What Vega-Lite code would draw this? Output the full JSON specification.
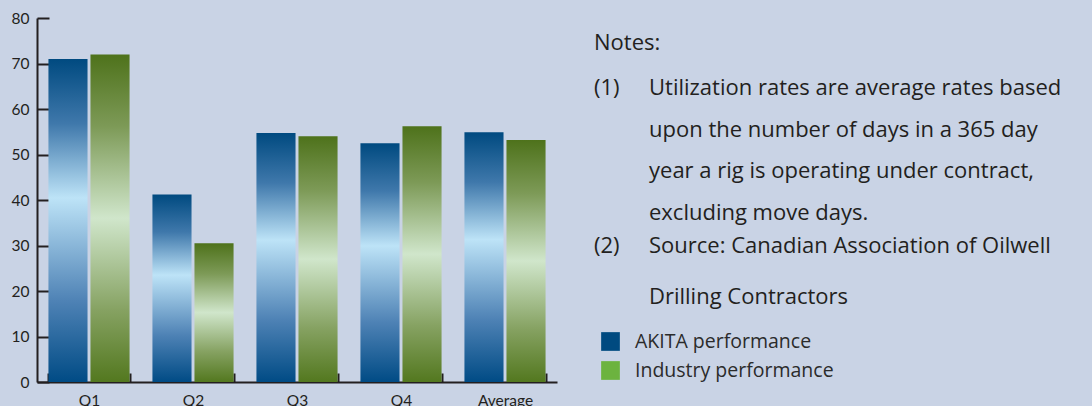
{
  "$schema": "https://vega.github.io/schema/vega-lite/v6.json",
  "background": "#c9d3e5",
  "padding": {"left": 11, "top": 11, "right": 0, "bottom": 0},
  "autosize": {"type": "pad"},
  "bounds": "flush",
  "spacing": 37,
  "config": {"view": {"stroke": null}, "font": "Lato"},
  "hconcat": [
    {
      "width": 520,
      "height": 364,
      "data": {"values": [
        {"quarter": "Q1", "series": "AKITA performance", "rate": 71.0},
        {"quarter": "Q1", "series": "Industry performance", "rate": 72.0},
        {"quarter": "Q2", "series": "AKITA performance", "rate": 41.2},
        {"quarter": "Q2", "series": "Industry performance", "rate": 30.5},
        {"quarter": "Q3", "series": "AKITA performance", "rate": 54.7},
        {"quarter": "Q3", "series": "Industry performance", "rate": 54.0},
        {"quarter": "Q4", "series": "AKITA performance", "rate": 52.5},
        {"quarter": "Q4", "series": "Industry performance", "rate": 56.2},
        {"quarter": "Average", "series": "AKITA performance", "rate": 54.9},
        {"quarter": "Average", "series": "Industry performance", "rate": 53.2}
      ]},
      "encoding": {
        "x": {
          "field": "quarter", "type": "nominal",
          "sort": ["Q1", "Q2", "Q3", "Q4", "Average"],
          "scale": {"paddingInner": 0.22, "paddingOuter": 0.11},
          "axis": {
            "title": null, "labelAngle": 0,
            "domainColor": "#231f20", "domainWidth": 2,
            "tickColor": "#231f20", "tickWidth": 2, "tickSize": -9,
            "tickBand": "extent",
            "labelPadding": 20, "labelFontSize": 15.5, "labelColor": "#231f20", "labelFont": "Lato"
          }
        },
        "xOffset": {
          "field": "series", "type": "nominal",
          "scale": {"domain": ["AKITA performance", "Industry performance"], "paddingInner": 0.07}
        },
        "y": {
          "field": "rate", "type": "quantitative",
          "scale": {"domain": [0, 80], "nice": false},
          "axis": {
            "title": null, "values": [0, 10, 20, 30, 40, 50, 60, 70, 80], "grid": false,
            "domainColor": "#231f20", "domainWidth": 2,
            "tickColor": "#231f20", "tickWidth": 2, "tickSize": -12,
            "labelPadding": 20, "labelFontSize": 15.5, "labelColor": "#231f20", "labelFont": "Lato"
          }
        }
      },
      "layer": [
        {
          "transform": [{"filter": "datum.series === 'AKITA performance'"}],
          "mark": {
            "type": "bar",
            "fill": {
              "gradient": "linear", "x1": 0, "y1": 0, "x2": 0, "y2": 1,
              "stops": [
                {"offset": 0, "color": "#004a80"},
                {"offset": 0.2, "color": "#3f78ab"},
                {"offset": 0.43, "color": "#bde3f7"},
                {"offset": 0.75, "color": "#4e82b5"},
                {"offset": 1, "color": "#004b85"}
              ]
            }
          }
        },
        {
          "transform": [{"filter": "datum.series === 'Industry performance'"}],
          "mark": {
            "type": "bar",
            "fill": {
              "gradient": "linear", "x1": 0, "y1": 0, "x2": 0, "y2": 1,
              "stops": [
                {"offset": 0, "color": "#4e721b"},
                {"offset": 0.22, "color": "#7d9a57"},
                {"offset": 0.5, "color": "#d0e6cb"},
                {"offset": 0.78, "color": "#86a262"},
                {"offset": 1, "color": "#53781f"}
              ]
            }
          }
        }
      ]
    },
    {
      "width": 498,
      "height": 364,
      "layer": [
        {
          "data": {"values": [
            {"col": "marker", "line": 0, "text": "Notes:"},
            {"col": "marker", "line": 1, "text": "(1)"},
            {"col": "text", "line": 1, "text": ["Utilization rates are average rates based", "upon the number of days in a 365 day", "year a rig is operating under contract,", "excluding move days."]},
            {"col": "marker", "line": 5, "text": "(2)"},
            {"col": "text", "line": 5, "text": ["Source:  Canadian Association of Oilwell", "Drilling Contractors"]}
          ]},
          "encoding": {
            "x": {"field": "col", "type": "nominal", "scale": {"type": "point", "domain": ["marker", "text"], "range": [0, 55], "padding": 0}, "axis": null},
            "y": {"field": "line", "type": "quantitative", "scale": {"domain": [-0.78, 8.19], "reverse": true, "nice": false, "zero": false}, "axis": null},
            "text": {"field": "text"}
          },
          "layer": [
            {
              "transform": [{"filter": "datum.line === 0"}],
              "mark": {"type": "text", "align": "left", "baseline": "alphabetic", "fontSize": 22, "color": "#231f20", "font": "Open Sans"}
            },
            {
              "transform": [{"filter": "datum.line === 1"}],
              "mark": {"type": "text", "align": "left", "baseline": "alphabetic", "fontSize": 22, "lineHeight": 41.5, "dy": 5, "color": "#231f20", "font": "Open Sans"}
            },
            {
              "transform": [{"filter": "datum.line === 5"}],
              "mark": {"type": "text", "align": "left", "baseline": "alphabetic", "fontSize": 22, "lineHeight": 51, "color": "#231f20", "font": "Open Sans"}
            }
          ]
        },
        {
          "data": {"values": [
            {"series": "AKITA performance"},
            {"series": "Industry performance"}
          ]},
          "encoding": {
            "y": {"field": "series", "type": "nominal", "scale": {"type": "point", "range": [323.5, 352.5], "padding": 0}, "axis": null}
          },
          "layer": [
            {
              "mark": {"type": "square", "size": 350, "opacity": 1, "filled": true},
              "encoding": {
                "x": {"datum": "swatch", "type": "nominal", "scale": {"type": "point", "domain": ["swatch", "label"], "range": [16.5, 41], "padding": 0}, "axis": null},
                "color": {"field": "series", "type": "nominal", "scale": {"domain": ["AKITA performance", "Industry performance"], "range": ["#004a80", "#6cb33f"]}, "legend": null}
              }
            },
            {
              "mark": {"type": "text", "align": "left", "baseline": "middle", "fontSize": 19.5, "color": "#2b2b2b", "font": "Open Sans"},
              "encoding": {
                "x": {"datum": "label", "type": "nominal", "scale": {"type": "point", "domain": ["swatch", "label"], "range": [16.5, 41], "padding": 0}, "axis": null},
                "text": {"field": "series"}
              }
            }
          ]
        }
      ],
      "resolve": {"scale": {"x": "independent", "y": "independent"}}
    }
  ]
}
